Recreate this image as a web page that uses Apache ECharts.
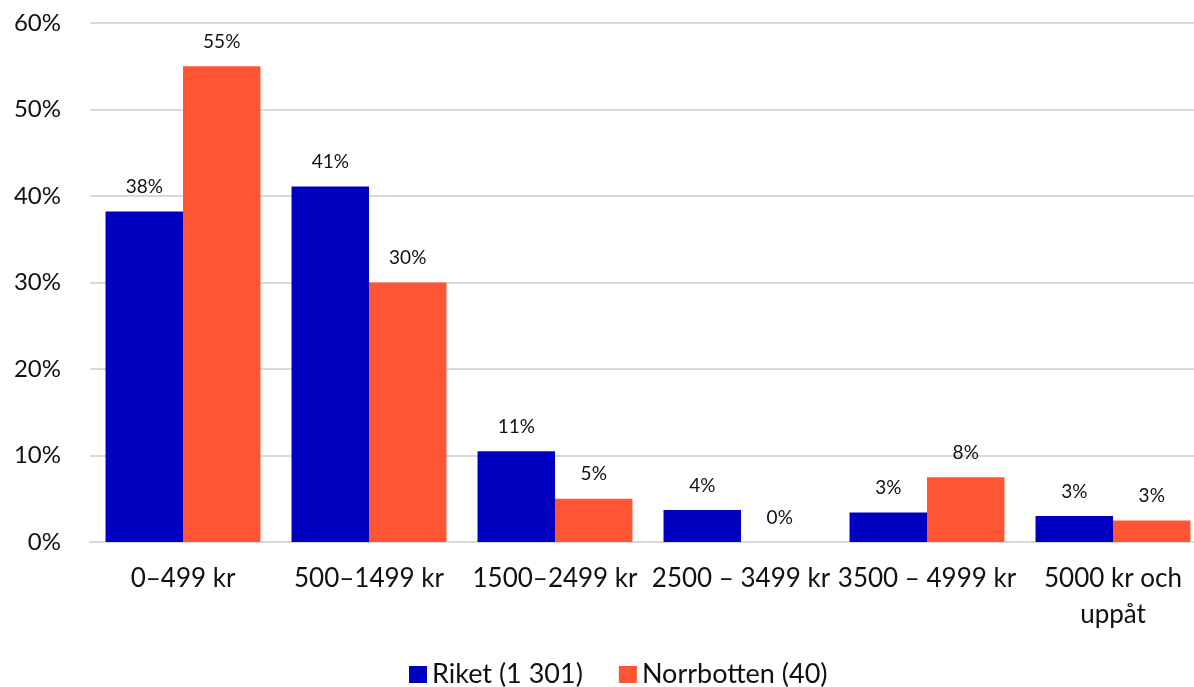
<!DOCTYPE html>
<html>
<head>
<meta charset="utf-8">
<script src="https://cdn.jsdelivr.net/npm/echarts@6/dist/echarts.min.js"></script>
<style>
html,body{margin:0;padding:0;background:#fff;}
#chart{width:1194px;height:687px;}
</style>
</head>
<body>
<div id="chart"></div>
<script>
const categories = ["0–499 kr", "500–1499 kr", "1500–2499 kr", "2500 – 3499 kr", "3500 – 4999 kr", "5000 kr och\nuppåt"];
const seriesNames = ["Riket (1 301)", "Norrbotten (40)"];
const riketValues = [38.2, 41.1, 10.5, 3.7, 3.4, 3.0];
const norrbottenValues = [55.0, 30.0, 5.0, 0, 7.5, 2.5];
const riketLabels = ["38%", "41%", "11%", "4%", "3%", "3%"];
const norrbottenLabels = ["55%", "30%", "5%", "0%", "8%", "3%"];
const yTicks = { min: 0, max: 60, interval: 10 };

const FONT = "Lato, 'Open Sans', sans-serif";
const chart = echarts.init(document.getElementById('chart'), null, { renderer: 'canvas' });

function mkSeries(name, values, labels, color) {
  return {
    name: name,
    type: 'bar',
    data: values,
    barGap: '0%',
    barCategoryGap: '16.7%',
    itemStyle: { color: color },
    label: {
      show: true,
      position: 'top',
      distance: 15,
      fontFamily: FONT,
      fontSize: 19,
      color: '#111',
      formatter: p => labels[p.dataIndex]
    }
  };
}

chart.setOption({
  animation: false,
  backgroundColor: '#fff',
  grid: { left: 90, top: 23, right: -12, bottom: 145, containLabel: false, outerBoundsMode: 'none' },
  legend: {
    left: 409,
    top: 661,
    padding: 0,
    itemWidth: 18,
    itemHeight: 17,
    itemGap: 36,
    icon: 'rect',
    textStyle: { fontFamily: FONT, fontSize: 27, color: '#111' },
    data: seriesNames
  },
  xAxis: {
    type: 'category',
    data: categories,
    axisTick: { show: false },
    axisLine: { show: true, lineStyle: { color: '#d9d9d9', width: 2 } },
    axisLabel: {
      interval: 0,
      margin: 19,
      fontFamily: FONT,
      fontSize: 26,
      lineHeight: 36,
      color: '#111'
    }
  },
  yAxis: {
    type: 'value',
    min: yTicks.min,
    max: yTicks.max,
    interval: yTicks.interval,
    axisLine: { show: false },
    axisTick: { show: false },
    splitLine: { lineStyle: { color: '#d9d9d9', width: 2 } },
    axisLabel: {
      margin: 29,
      fontFamily: FONT,
      fontSize: 24,
      color: '#111',
      formatter: v => v + '%'
    }
  },
  series: [
    mkSeries(seriesNames[0], riketValues, riketLabels, '#0000c0'),
    mkSeries(seriesNames[1], norrbottenValues, norrbottenLabels, '#ff5535')
  ]
});
</script>
</body>
</html>
